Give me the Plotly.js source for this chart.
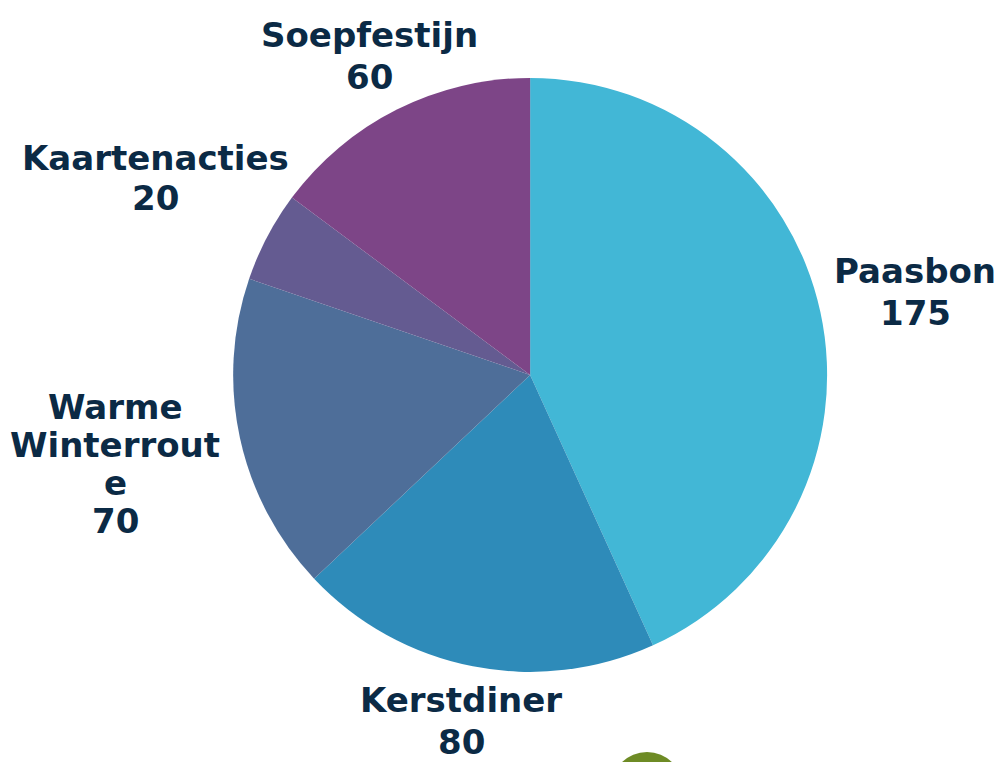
<!DOCTYPE html>
<html>
<head>
<meta charset="utf-8">
<script src="https://cdn.plot.ly/plotly-3.0.1.min.js"></script>
<style>html,body{margin:0;padding:0;background:#fff;}#chart{width:1005px;height:762px;}</style>
</head>
<body>
<div id="chart"></div>
<script>
var categories = ["Paasbon", "Kerstdiner", "Warme Winterroute", "Kaartenacties", "Soepfestijn"];
var displayLabels = ["Paasbon", "Kerstdiner", "Warme<br>Winterrout<br>e", "Kaartenacties", "Soepfestijn"];
var values = [175, 80, 70, 20, 60];
var sliceColors = ["#42b7d6", "#2e8bb9", "#4e6e99", "#645b91", "#7d4587"];

// label block centres and line pitch in pixels (layout only)
var labelCenters = [[915, 292], [461, 721], [115, 464], [155, 178], [369, 56]];
var linePitch = [42, 42, 38, 40, 42];

var W = 1005, H = 762;

var trace = {
  type: "pie",
  labels: categories,
  values: values,
  sort: false,
  direction: "clockwise",
  rotation: 0,
  marker: { colors: sliceColors, line: { width: 0 } },
  textinfo: "none",
  hoverinfo: "label+value",
  domain: { x: [0.232, 0.823], y: [0.118, 0.898] },
  showlegend: false
};

var annotations = [];
categories.forEach(function (c, i) {
  var lines = (displayLabels[i] + "<br>" + values[i]).split("<br>");
  var n = lines.length;
  lines.forEach(function (ln, j) {
    var cy = labelCenters[i][1] + (j - (n - 1) / 2) * linePitch[i];
    annotations.push({
      xref: "paper", yref: "paper",
      x: labelCenters[i][0] / W, y: 1 - cy / H,
      xanchor: "center", yanchor: "middle", align: "center",
      showarrow: false,
      text: ln,
      font: { family: "DejaVu Sans", size: 34, color: "#0b2a45", weight: "bold" }
    });
  });
});

var layout = {
  width: W,
  height: H,
  margin: { l: 0, r: 0, t: 0, b: 0 },
  paper_bgcolor: "#ffffff",
  showlegend: false,
  font: { family: "DejaVu Sans", color: "#0b2a45" },
  annotations: annotations,
  shapes: [{
    type: "circle", xref: "paper", yref: "paper",
    x0: 611 / W, x1: 683 / W, y0: (H - 824) / H, y1: (H - 752) / H,
    fillcolor: "#6e8b25", line: { width: 0 }, layer: "below"
  }]
};

Plotly.newPlot("chart", [trace], layout, { displayModeBar: false, staticPlot: true });
</script>
</body>
</html>
